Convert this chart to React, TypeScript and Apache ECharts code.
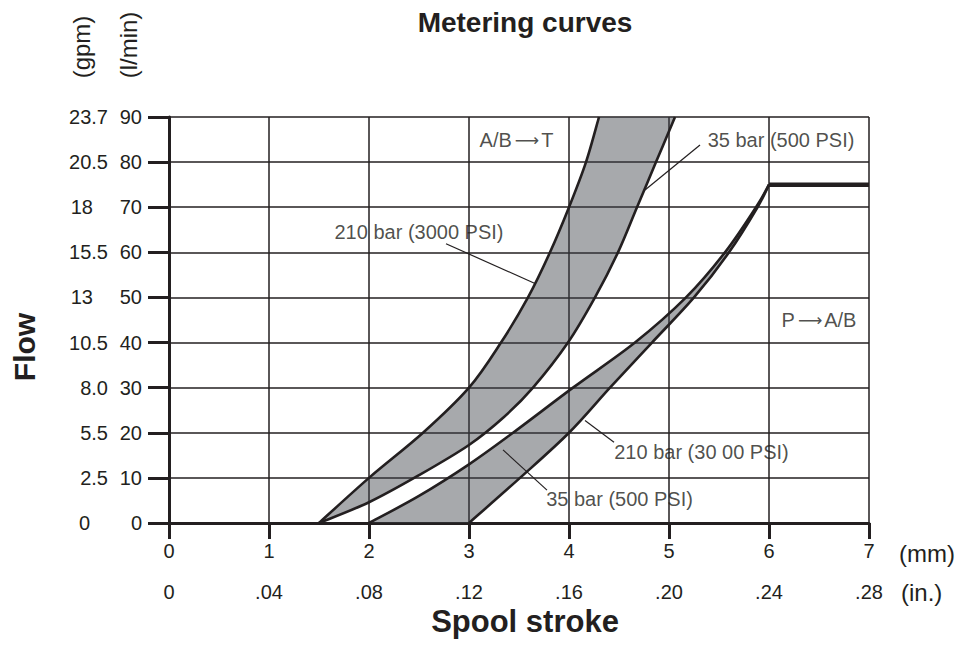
import React, { useEffect, useRef } from "react";
import * as echarts from "echarts";

// ---- data ----
const mmTicks = ["0", "1", "2", "3", "4", "5", "6", "7"];
const inTicks = ["0", ".04", ".08", ".12", ".16", ".20", ".24", ".28"];
const gpmTicks = ["0", "2.5", "5.5", "8.0", "10.5", "13", "15.5", "18", "20.5", "23.7"];

// A/B -> T band (spool stroke mm, flow l/min)
const abt210: number[][] = [[1.5, 0], [2, 10], [2.54, 20], [3, 30], [3.32, 40], [3.59, 50], [3.81, 60], [4.0, 70], [4.17, 80], [4.3, 90]];
const abt35: number[][] = [[1.5, 0], [2, 4.6], [2.5, 10.6], [3, 17.3], [3.35, 23.5], [3.64, 30], [3.99, 40], [4.26, 50], [4.49, 60], [4.68, 70], [4.87, 80], [5.06, 90]];
// P -> A/B band
const pab210: number[][] = [[2, 0], [2.5, 6], [3, 13], [3.44, 20], [4.04, 30], [4.66, 40], [5.17, 50], [5.56, 60], [5.87, 70], [6, 75]];
const pab35: number[][] = [[3, 0], [3.51, 10], [4, 20], [4.41, 30], [4.83, 40], [5.25, 50], [5.6, 60], [5.885, 70], [6, 75]];
const pabLimit: number[][] = [[6, 75], [7, 75]];

// leader lines
const leadTop35: number[][] = [[5.31, 83.8], [4.76, 73.8]];
const leadTop210: number[][] = [[2.77, 61.9], [3.66, 53.1]];
const leadLow210: number[][] = [[4.45, 17.9], [4.16, 22.7]];
const leadLow35: number[][] = [[3.34, 16.2], [3.78, 7.3]];

// annotation texts and anchors
const noteTexts = ["A/B{a|\u27F6}T", "35 bar (500 PSI)", "210 bar (3000 PSI)", "P{a|\u27F6}A/B", "210 bar (30 00 PSI)", "35 bar (500 PSI)"];
const notePos: number[][] = [[3.475, 84.9], [6.12, 84.9], [2.5, 64.6], [6.5, 44.9], [5.325, 15.8], [4.505, 5.3]];

const INK = "#231f20";
const FONT = "'Liberation Sans', Arial, Helvetica, sans-serif";
const BAND = "rgba(60,64,72,0.45)";

function spline(pts: number[][]): string {
  let d = "";
  for (let i = 0; i < pts.length - 1; i++) {
    const p0 = pts[i - 1] || pts[i];
    const p1 = pts[i];
    const p2 = pts[i + 1];
    const p3 = pts[i + 2] || p2;
    const c1x = p1[0] + (p2[0] - p0[0]) / 6;
    const c1y = p1[1] + (p2[1] - p0[1]) / 6;
    const c2x = p2[0] - (p3[0] - p1[0]) / 6;
    const c2y = p2[1] - (p3[1] - p1[1]) / 6;
    d += ` C ${c1x} ${c1y} ${c2x} ${c2y} ${p2[0]} ${p2[1]}`;
  }
  return d;
}

function bandSeries(a: number[][], b: number[][]) {
  return {
    type: "custom",
    coordinateSystem: "cartesian2d",
    xAxisIndex: 0,
    yAxisIndex: 0,
    data: [[0, 0]],
    silent: true,
    z: 3,
    renderItem: (_params: any, api: any) => {
      const A = a.map((p) => api.coord(p));
      const B = b.map((p) => api.coord(p));
      const Br = B.slice().reverse();
      const fillD =
        `M ${A[0][0]} ${A[0][1]}` + spline(A) + ` L ${Br[0][0]} ${Br[0][1]}` + spline(Br) + " Z";
      const aD = `M ${A[0][0]} ${A[0][1]}` + spline(A);
      const bD = `M ${B[0][0]} ${B[0][1]}` + spline(B);
      return {
        type: "group",
        children: [
          { type: "path", shape: { pathData: fillD }, style: { fill: BAND, stroke: null } },
          { type: "path", shape: { pathData: aD }, style: { fill: null, stroke: INK, lineWidth: 2.6 } },
          { type: "path", shape: { pathData: bD }, style: { fill: null, stroke: INK, lineWidth: 2.6 } },
        ],
      };
    },
  };
}

function leader(data: number[][]) {
  return {
    type: "line",
    data,
    symbol: "none",
    silent: true,
    z: 4,
    lineStyle: { color: INK, width: 1.2 },
  };
}

export default function App() {
  const ref = useRef<HTMLDivElement>(null);
  useEffect(() => {
    document.body.style.margin = "0";
    const chart = echarts.init(ref.current!, null, { renderer: "svg" });
    const axisText = { color: INK, fontSize: 20, fontFamily: FONT };
    chart.setOption({
      animation: false,
      backgroundColor: "#ffffff",
      grid: { left: 169, top: 117, width: 700, height: 406, containLabel: false },
      xAxis: [
        {
          type: "value",
          min: 0,
          max: 7,
          interval: 1,
          axisLine: { show: true, lineStyle: { color: INK, width: 3 } },
          axisTick: { show: true, length: 16, lineStyle: { color: INK, width: 3 } },
          splitLine: { show: true, lineStyle: { color: INK, width: 1.5 } },
          axisLabel: { ...axisText, margin: 18, formatter: (v: number) => mmTicks[Math.round(v)] },
        },
        {
          type: "value",
          position: "bottom",
          min: 0,
          max: 7,
          interval: 1,
          axisLine: { show: false },
          axisTick: { show: false },
          splitLine: { show: false },
          axisLabel: { ...axisText, margin: 59, formatter: (v: number) => inTicks[Math.round(v)] },
        },
      ],
      yAxis: [
        {
          type: "value",
          min: 0,
          max: 90,
          interval: 10,
          axisLine: { show: true, lineStyle: { color: INK, width: 3 } },
          axisTick: { show: true, length: 21, lineStyle: { color: INK, width: 3 } },
          splitLine: { show: true, lineStyle: { color: INK, width: 1.5 } },
          axisLabel: { ...axisText, margin: 27 },
        },
        {
          type: "value",
          position: "left",
          min: 0,
          max: 90,
          interval: 10,
          axisLine: { show: false },
          axisTick: { show: false },
          splitLine: { show: false },
          axisLabel: {
            ...axisText,
            margin: 61,
            formatter: (v: number) => {
              const t = gpmTicks[Math.round(v / 10)];
              if (t === "13" || t === "18") return `{s|${t}}`;
              if (t === "0") return `{z|${t}}`;
              return t;
            },
            rich: {
              s: { ...axisText, padding: [0, 15, 0, 0] },
              z: { ...axisText, padding: [0, 18, 0, 0] },
            },
          },
        },
      ],
      graphic: [
        { type: "text", x: 525, y: 22, style: { text: "Metering curves", fill: INK, font: `bold 28px ${FONT}`, textAlign: "center", textVerticalAlign: "middle" } },
        { type: "text", x: 525, y: 621, style: { text: "Spool stroke", fill: INK, font: `bold 31px ${FONT}`, textAlign: "center", textVerticalAlign: "middle" } },
        { type: "text", x: 24, y: 347, rotation: Math.PI / 2, style: { text: "Flow", fill: INK, font: `bold 30px ${FONT}`, textAlign: "center", textVerticalAlign: "middle" } },
        { type: "text", x: 81, y: 47, rotation: Math.PI / 2, style: { text: "(gpm)", fill: INK, font: `24px ${FONT}`, textAlign: "center", textVerticalAlign: "middle" } },
        { type: "text", x: 128, y: 45, rotation: Math.PI / 2, style: { text: "(l/min)", fill: INK, font: `24px ${FONT}`, textAlign: "center", textVerticalAlign: "middle" } },
        { type: "text", x: 899, y: 553, style: { text: "(mm)", fill: INK, font: `24px ${FONT}`, textAlign: "left", textVerticalAlign: "middle" } },
        { type: "text", x: 901, y: 592, style: { text: "(in.)", fill: INK, font: `24px ${FONT}`, textAlign: "left", textVerticalAlign: "middle" } },
      ],
      series: [
        bandSeries(abt210, abt35),
        bandSeries(pab210, pab35),
        {
          type: "line",
          data: pabLimit,
          symbol: "none",
          silent: true,
          z: 4,
          lineStyle: { color: INK, width: 4.5 },
        },
        leader(leadTop35),
        leader(leadTop210),
        leader(leadLow210),
        leader(leadLow35),
        {
          type: "scatter",
          symbolSize: 0,
          silent: true,
          z: 5,
          data: notePos.map((p, i) => ({ value: p, name: noteTexts[i] })),
          label: {
            show: true,
            position: "inside",
            formatter: (p: any) => p.name,
            color: INK,
            fontSize: 20,
            fontFamily: FONT,
            rich: {
              a: { color: INK, fontSize: 17, fontFamily: "'DejaVu Sans', sans-serif", padding: [0, 2, 0, 3] },
            },
          },
        },
      ],
    });
    return () => chart.dispose();
  }, []);
  return <div ref={ref} style={{ width: 962, height: 663 }} />;
}
